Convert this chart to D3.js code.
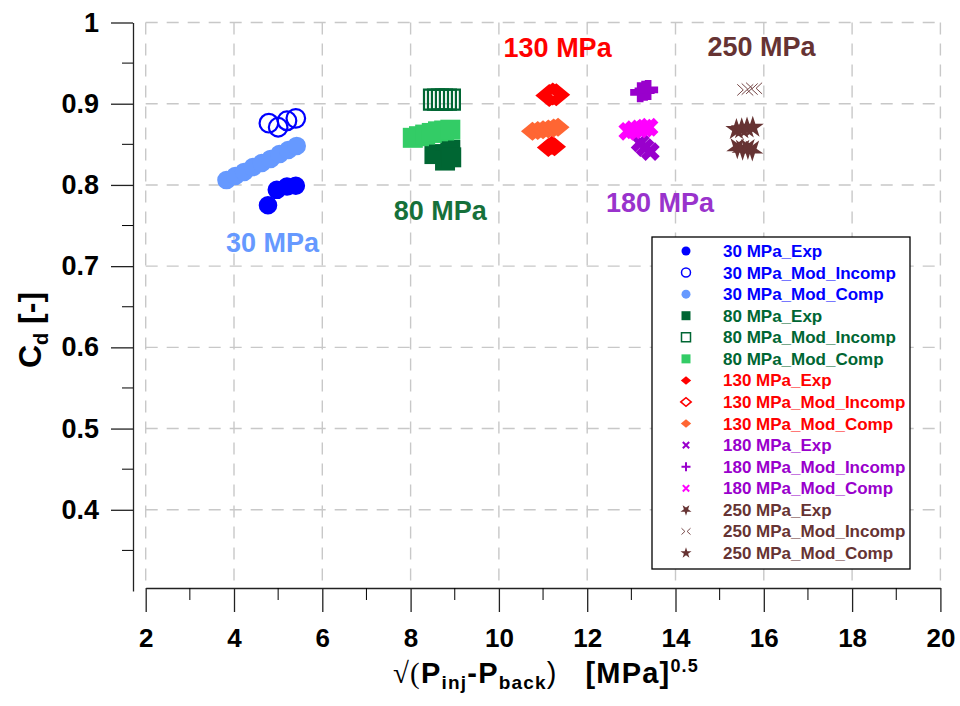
<!DOCTYPE html>
<html>
<head>
<meta charset="utf-8">
<script src="https://cdn.jsdelivr.net/npm/d3@7"></script>
<style>
  body { margin: 0; background: #fff; }
  svg text { font-family: "Liberation Sans", Arial, sans-serif; font-weight: bold; }
</style>
</head>
<body>
<svg id="chart" width="960" height="706"></svg>
<script>
// --- data ---
const xTicks = [2, 4, 6, 8, 10, 12, 14, 16, 18, 20];
const yTicks = [0.4, 0.5, 0.6, 0.7, 0.8, 0.9, 1];

// 30 MPa
const exp30X = [4.77, 4.97, 5.20, 5.40];
const exp30Y = [0.775, 0.794, 0.798, 0.799];
const incomp30X = [4.79, 5.00, 5.20, 5.40];
const incomp30Y = [0.876, 0.871, 0.879, 0.882];
const comp30X = [3.83, 4.03, 4.23, 4.43, 4.63, 4.83, 5.03, 5.23, 5.42];
const comp30Y = [0.806, 0.811, 0.816, 0.822, 0.827, 0.832, 0.838, 0.843, 0.848];
// 80 MPa
const exp80X = [8.54, 8.78, 8.90, 8.92];
const exp80Y = [0.838, 0.830, 0.843, 0.834];
const incomp80X = [8.53, 8.62, 8.71, 8.80, 8.89];
const incomp80Y = [0.905, 0.905, 0.905, 0.905, 0.905];
const comp80X = [8.05, 8.19, 8.33, 8.48, 8.62, 8.76, 8.90];
const comp80Y = [0.858, 0.860, 0.862, 0.864, 0.866, 0.867, 0.868];
// 130 MPa
const exp130X = [11.12, 11.20, 11.26];
const exp130Y = [0.846, 0.849, 0.847];
const incomp130X = [11.14, 11.22, 11.30];
const incomp130Y = [0.910, 0.912, 0.911];
const comp130X = [10.76, 10.88, 11.00, 11.12, 11.24, 11.34];
const comp130Y = [0.866, 0.867, 0.868, 0.869, 0.870, 0.871];
// 180 MPa
const exp180X = [13.20, 13.31, 13.43];
const exp180Y = [0.852, 0.846, 0.841];
const incomp180X = [13.20, 13.30, 13.38];
const incomp180Y = [0.914, 0.916, 0.917];
const comp180X = [12.92, 13.05, 13.18, 13.30, 13.40];
const comp180Y = [0.866, 0.868, 0.869, 0.870, 0.871];
// 250 MPa
const exp250X = [15.40, 15.52, 15.64, 15.74];
const exp250Y = [0.846, 0.844, 0.845, 0.843];
const incomp250X = [15.58, 15.68, 15.78];
const incomp250Y = [0.917, 0.918, 0.919];
const comp250X = [15.38, 15.50, 15.62, 15.75];
const comp250Y = [0.868, 0.869, 0.870, 0.871];

const seriesNames = [
  "30 MPa_Exp", "30 MPa_Mod_Incomp", "30 MPa_Mod_Comp",
  "80 MPa_Exp", "80 MPa_Mod_Incomp", "80 MPa_Mod_Comp",
  "130 MPa_Exp", "130 MPa_Mod_Incomp", "130 MPa_Mod_Comp",
  "180 MPa_Exp", "180 MPa_Mod_Incomp", "180 MPa_Mod_Comp",
  "250 MPa_Exp", "250 MPa_Mod_Incomp", "250 MPa_Mod_Comp"
];
const pressureLabels = ["30 MPa", "80 MPa", "130 MPa", "180 MPa", "250 MPa"];
const labelPos = [[4.87, 0.717], [8.67, 0.757], [11.33, 0.958], [13.65, 0.767], [15.95, 0.959]];

// styles
const textColors = ["#0000ff", "#006633", "#ff0000", "#9900cc", "#663333"];
const labelColors = ["#6699ff", "#16703a", "#ff0000", "#9933cc", "#663333"];

const series = [
  { x: exp30X, y: exp30Y, shape: "circle", color: "#0000ff", fill: true },
  { x: incomp30X, y: incomp30Y, shape: "circle", color: "#0000ff", fill: false },
  { x: comp30X, y: comp30Y, shape: "circle", color: "#6699ff", fill: true },
  { x: exp80X, y: exp80Y, shape: "square", color: "#006633", fill: true },
  { x: incomp80X, y: incomp80Y, shape: "square", color: "#006633", fill: false },
  { x: comp80X, y: comp80Y, shape: "square", color: "#33cc66", fill: true },
  { x: exp130X, y: exp130Y, shape: "diamond", color: "#ff0000", fill: true },
  { x: incomp130X, y: incomp130Y, shape: "diamond", color: "#ff0000", fill: false },
  { x: comp130X, y: comp130Y, shape: "diamond", color: "#ff6633", fill: true },
  { x: exp180X, y: exp180Y, shape: "x", color: "#9900cc", fill: true },
  { x: incomp180X, y: incomp180Y, shape: "plus", color: "#9900cc", fill: true },
  { x: comp180X, y: comp180Y, shape: "x", color: "#ff00ff", fill: true },
  { x: exp250X, y: exp250Y, shape: "star2", color: "#663333", fill: true },
  { x: incomp250X, y: incomp250Y, shape: "bowtie", color: "#663333", fill: false },
  { x: comp250X, y: comp250Y, shape: "star", color: "#663333", fill: true }
];

const svg = d3.select("#chart");
const x = d3.scaleLinear().domain([2, 20]).range([145.7, 940.4]);
const y = d3.scaleLinear().domain([0.3, 1]).range([591, 22.5]);

// grid
const grid = svg.append("g").attr("stroke", "#c8c8c8").attr("stroke-width", 1.4)
  .attr("stroke-dasharray", "12,9").attr("fill", "none");
grid.selectAll("line.v").data(xTicks).join("line")
  .attr("x1", d => x(d)).attr("x2", d => x(d))
  .attr("y1", y(1)).attr("y2", 588);
grid.selectAll("line.h").data(yTicks).join("line")
  .attr("x1", x(2)).attr("x2", x(20))
  .attr("y1", d => y(d)).attr("y2", d => y(d));

// axes
const yAxis = svg.append("g").attr("transform", "translate(133,0)")
  .call(d3.axisLeft(y).tickValues(yTicks).tickSize(22).tickSizeOuter(0).tickPadding(12)
    .tickFormat(d => d === 1 ? "1" : d3.format(".1f")(d)));
yAxis.selectAll("text").attr("font-size", 27).attr("fill", "#000");
yAxis.append("g").selectAll("line").data([0.35, 0.45, 0.55, 0.65, 0.75, 0.85, 0.95]).join("line")
  .attr("x1", -11).attr("x2", 0).attr("y1", d => y(d)).attr("y2", d => y(d)).attr("stroke", "#000");

const xAxis = svg.append("g").attr("transform", "translate(0,588)")
  .call(d3.axisBottom(x).tickValues(xTicks).tickSize(24).tickSizeOuter(0).tickPadding(17));
xAxis.selectAll("text").attr("font-size", 26).attr("fill", "#000");
xAxis.append("g").selectAll("line").data([3, 5, 7, 9, 11, 13, 15, 17, 19]).join("line")
  .attr("x1", d => x(d)).attr("x2", d => x(d)).attr("y1", 0).attr("y2", 12).attr("stroke", "#000");
svg.selectAll(".domain, .tick line").attr("stroke", "#222").attr("stroke-width", 1.3);

// axis titles
const yTitle = svg.append("text")
  .attr("transform", "translate(41,330) rotate(-90)")
  .attr("text-anchor", "middle").attr("font-size", 32).attr("fill", "#000");
yTitle.append("tspan").text("C");
yTitle.append("tspan").attr("font-size", 20).attr("dy", 7).text("d");
yTitle.append("tspan").attr("dy", -7).text("  [-]");

const xTitle = svg.append("text").attr("x", 546).attr("y", 683)
  .attr("text-anchor", "middle").attr("font-size", 29).attr("fill", "#000")
  .attr("letter-spacing", 1.2)
  .attr("xml:space", "preserve");
xTitle.append("tspan").attr("font-family", "Liberation Serif, serif").attr("font-weight", "normal").text("√(");
xTitle.append("tspan").text("P");
xTitle.append("tspan").attr("font-size", 19).attr("dy", 6).text("inj");
xTitle.append("tspan").attr("dy", -6).text("-P");
xTitle.append("tspan").attr("font-size", 19).attr("dy", 6).text("back");
xTitle.append("tspan").attr("dy", -6).attr("font-weight", "normal").text(")");
xTitle.append("tspan").text("   [MPa]");
xTitle.append("tspan").attr("font-size", 18).attr("dy", -11).text("0.5");

// markers
function markerPath(shape, s) {
  // s = half-size in px
  switch (shape) {
    case "circle": return d3.symbol(d3.symbolCircle, Math.PI * s * s)();
    case "square": return d3.symbol(d3.symbolSquare, 4 * s * s)();
    case "diamond": return `M${-s * 1.15},0L0,${-s * 0.95}L${s * 1.15},0L0,${s * 0.95}Z`;
    case "plus": return d3.symbol(d3.symbolCross, 5 * Math.pow(2 * s / 3, 2))();
    case "x": return d3.symbol(d3.symbolCross, 5 * Math.pow(2 * s / 3, 2))();
    case "star": return d3.symbol(d3.symbolStar, 1.25 * s * s)();
    case "star2": return d3.symbol(d3.symbolStar, 1.25 * s * s)();
    case "bowtie": return `M${-s},${-s * 0.7}L${-s * 0.25},0L${-s},${s * 0.7}M${s},${-s * 0.7}L${s * 0.25},0L${s},${s * 0.7}`;
  }
}
function markerRotate(shape) {
  if (shape === "x") return 45;
  if (shape === "star2") return 180;
  return 0;
}
function drawMarker(g, sr, s, legendMode) {
  let sw = 2.2;
  if (sr.shape === "bowtie") sw = 0.9;
  else if (sr.shape === "diamond") sw = legendMode ? 1.6 : 6;
  else if (legendMode) sw = 1.5;
  let path = markerPath(sr.shape, s);
  let fill = sr.fill ? sr.color : "none";
  let stroke = sr.fill ? "none" : sr.color;
  // legend crosses are drawn as thin lines
  if (legendMode && (sr.shape === "x" || sr.shape === "plus")) {
    path = `M${-s},0L${s},0M0,${-s}L0,${s}`;
    fill = "none"; stroke = sr.color; sw = 2;
  }
  g.append("path")
    .attr("d", path)
    .attr("transform", `rotate(${markerRotate(sr.shape)})`)
    .attr("fill", fill)
    .attr("stroke", stroke)
    .attr("stroke-width", sw);
}

const plot = svg.append("g");
series.forEach(sr => {
  const pts = sr.x.map((v, i) => ({ x: v, y: sr.y[i] }));
  let s = 10;
  if (sr.shape === "circle") s = 9.3;
  if (sr.shape === "bowtie") s = 8;
  if (sr.shape === "diamond" && !sr.fill) s = 8;
  if (sr.shape.startsWith("star")) s = 11;
  pts.forEach(p => {
    const g = plot.append("g").attr("transform", `translate(${x(p.x)},${y(p.y)})`);
    drawMarker(g, sr, s, false);
  });
});

// pressure labels
svg.append("g").selectAll("text").data(pressureLabels).join("text")
  .attr("x", (d, i) => x(labelPos[i][0]))
  .attr("y", (d, i) => y(labelPos[i][1]))
  .attr("text-anchor", "middle").attr("font-size", 27)
  .attr("fill", (d, i) => labelColors[i])
  .text(d => d);

// legend
const legend = svg.append("g").attr("transform", "translate(652,237)");
legend.append("rect").attr("width", 258).attr("height", 332)
  .attr("fill", "#fff").attr("stroke", "#000").attr("stroke-width", 1.3);
seriesNames.forEach((name, i) => {
  const row = legend.append("g").attr("transform", `translate(0,${14 + i * 21.57})`);
  const m = row.append("g").attr("transform", "translate(34,0)");
  let s = 4.5;
  if (series[i].shape.startsWith("star")) s = 5.5;
  drawMarker(m, series[i], s, true);
  row.append("text").attr("x", 71).attr("y", 6).attr("font-size", 17)
    .attr("fill", textColors[Math.floor(i / 3)]).text(name);
});
</script>
</body>
</html>
